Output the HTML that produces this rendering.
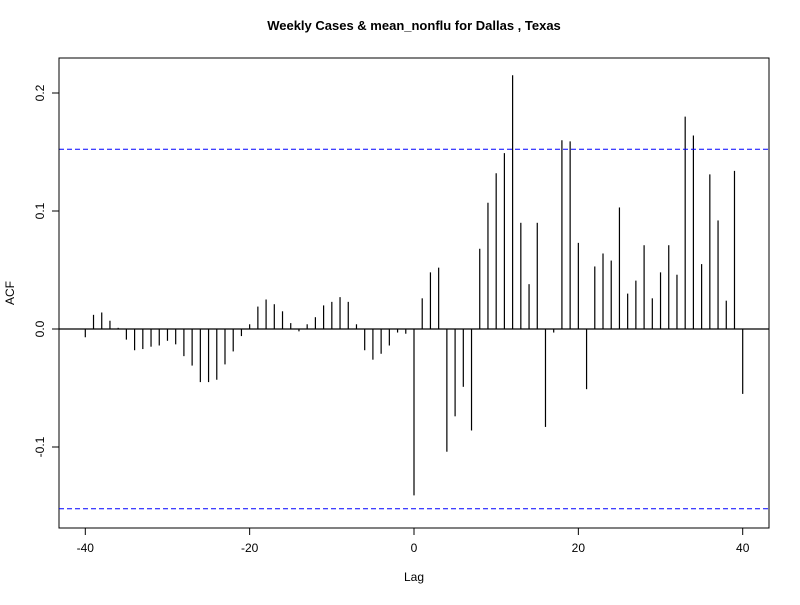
<!DOCTYPE html>
<html><head><meta charset="utf-8"><style>
body{margin:0;background:#fff}
svg text{font-family:"Liberation Sans",Arial,sans-serif;font-size:12px}
</style></head><body>
<svg width="800" height="600" xmlns="http://www.w3.org/2000/svg">
<rect width="800" height="600" fill="#fff"/>
<text x="414" y="30" text-anchor="middle" font-weight="bold" style="font-size:13px">Weekly Cases &amp; mean_nonflu for Dallas , Texas</text>
<rect x="59" y="58" width="710" height="470" fill="none" stroke="#000"/>
<g id="bars"></g>
<g id="axes"></g>
<text x="414" y="581" text-anchor="middle">Lag</text>
<text transform="translate(14,293) rotate(-90)" text-anchor="middle">ACF</text>
</svg>
<script>
const lags=[];for(let i=-40;i<=40;i++)lags.push(i);
const acf=[-0.007,0.012,0.014,0.007,0.001,-0.009,-0.018,-0.017,-0.015,-0.014,-0.010,-0.013,-0.023,-0.031,-0.045,-0.045,-0.043,-0.030,-0.019,-0.006,0.004,0.019,0.025,0.021,0.015,0.005,-0.002,0.004,0.010,0.020,0.023,0.027,0.023,0.004,-0.018,-0.026,-0.021,-0.014,-0.003,-0.004,
-0.141,
0.026,0.048,0.052,-0.104,-0.074,-0.049,-0.086,0.068,0.107,0.132,0.149,0.215,0.090,0.038,0.090,-0.083,-0.003,0.160,0.159,0.073,-0.051,0.053,0.064,0.058,0.103,0.030,0.041,0.071,0.026,0.048,0.071,0.046,0.180,0.164,0.055,0.131,0.092,0.024,0.134,-0.055];
const ci=[0.1523,-0.1523];
const xTicks=[-40,-20,0,20,40];
const yTicks=[-0.1,0.0,0.1,0.2];
const yTickLabels=["-0.1","0.0","0.1","0.2"];
const NS="http://www.w3.org/2000/svg";
const X=v=>59+(v+43.2)*710/86.4;
const Y=v=>329-v*1180;
function mk(t,a,p){const e=document.createElementNS(NS,t);for(const k in a)e.setAttribute(k,a[k]);p.appendChild(e);return e;}
const bars=document.getElementById('bars'),axes=document.getElementById('axes');
lags.forEach((l,i)=>{
 const e=mk('line',{x1:X(l),x2:X(l),y1:Y(0),y2:Y(acf[i]),stroke:'#000','stroke-width':1.2},bars);
 
 
});
const z=mk('line',{x1:59,x2:769,y1:Y(0),y2:Y(0),stroke:'#000','stroke-width':1.2},axes);


ci.forEach((c,i)=>{
 const e=mk('line',{x1:59,x2:769,y1:Y(c),y2:Y(c),stroke:'#0000ff','stroke-dasharray':'5,3'},axes);
 
 
});
mk('line',{x1:X(-40),x2:X(40),y1:528,y2:528,stroke:'#000'},axes);
xTicks.forEach(t=>{
 mk('line',{x1:X(t),x2:X(t),y1:528,y2:535,stroke:'#000'},axes);
 const e=mk('text',{x:X(t),y:552,'text-anchor':'middle'},axes);e.textContent=t;
 
 
});
yTicks.forEach((t,i)=>{
 mk('line',{x1:52,x2:59,y1:Y(t),y2:Y(t),stroke:'#000'},axes);
 const e=mk('text',{transform:`translate(44,${Y(t)}) rotate(-90)`,'text-anchor':'middle'},axes);e.textContent=yTickLabels[i];
 
 
});
mk('line',{x1:59,x2:59,y1:Y(-0.1),y2:Y(0.2),stroke:'#000'},axes);
</script>
</body></html>
